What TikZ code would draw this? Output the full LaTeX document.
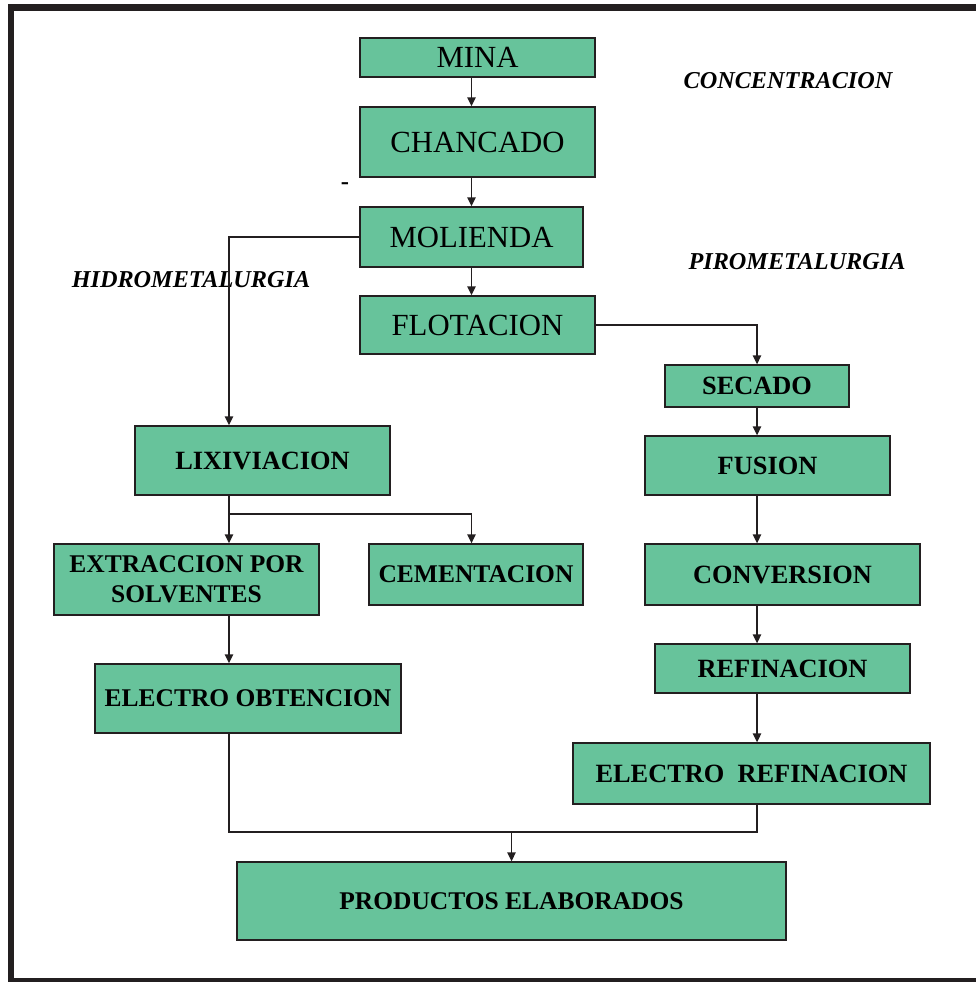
\documentclass[tikz,border=0pt]{standalone}
\usepackage{fontspec}
\setmainfont{Liberation Serif}
\usepackage{tikz}
\usetikzlibrary{arrows.meta, positioning, calc}
\definecolor{mgreen}{HTML}{67C39B}
\definecolor{mline}{HTML}{231F20}
\tikzset{
  >=Latex,
  stage/.style={
    draw=mline, fill=mgreen, line width=0.8pt, align=center, inner sep=2pt,
    font=\fontsize{17.5}{20}\selectfont
  },
  stagebold/.style={
    stage, font=\fontsize{15}{17}\selectfont\bfseries
  },
  tag/.style={font=\fontsize{13.8}{16}\selectfont\bfseries\itshape, text=black},
  arr/.style={-{Triangle[length=1.8mm, width=1.7mm]}, line width=0.8pt, draw=mline},
  link/.style={line width=0.8pt, draw=mline}
}

\begin{document}
\begin{tikzpicture}[x=0.02cm, y=-0.02cm]
  \useasboundingbox (0,0) rectangle (975,982);
  % frame
  \draw[mline, line width=0.14cm] (11,8) rectangle (1000,981);

  % concentracion
  \node[stage, minimum width=4.7cm, minimum height=0.78cm] (mina) at (477.5,57.5) {MINA};
  \node[stage, minimum width=4.7cm, minimum height=1.4cm] (chancado) at (477.5,142) {CHANCADO};
  \node[stage, minimum width=4.46cm, minimum height=1.2cm] (molienda) at (471.5,237) {MOLIENDA};
  \node[stage, minimum width=4.7cm, minimum height=1.16cm] (flotacion) at (477.5,325) {FLOTACION};

  % pirometalurgia
  \node[stagebold, minimum width=3.68cm, minimum height=0.84cm] (secado) at (757,386) {SECADO};
  \node[stagebold, minimum width=4.9cm, minimum height=1.18cm] (fusion) at (767.5,465.5) {FUSION};
  \node[stagebold, minimum width=5.5cm, minimum height=1.22cm] (conversion) at (782.5,574.5) {CONVERSION};
  \node[stagebold, minimum width=5.1cm, minimum height=0.98cm] (refinacion) at (782.5,668.5) {REFINACION};
  \node[stagebold, minimum width=7.14cm, minimum height=1.22cm] (electroref) at (751.5,773.5) {ELECTRO\ \ REFINACION};

  % hidrometalurgia
  \node[stagebold, minimum width=5.1cm, minimum height=1.38cm] (lixiviacion) at (262.5,460.5) {LIXIVIACION};
  \node[stagebold, minimum width=5.3cm, minimum height=1.42cm, font=\fontsize{14.5}{17}\selectfont\bfseries] (extraccion) at (186.5,579.5) {EXTRACCION POR\\SOLVENTES};
  \node[stagebold, minimum width=4.28cm, minimum height=1.22cm, font=\fontsize{14.5}{17}\selectfont\bfseries] (cementacion) at (476,574.5) {CEMENTACION};
  \node[stagebold, minimum width=6.12cm, minimum height=1.38cm, font=\fontsize{14.5}{17}\selectfont\bfseries] (electroobt) at (248,698.5) {ELECTRO OBTENCION};

  \node[stagebold, minimum width=10.98cm, minimum height=1.56cm, font=\fontsize{14.5}{17}\selectfont\bfseries] (productos) at (511.5,901) {PRODUCTOS ELABORADOS};

  % labels
  \node[tag] (lblconc) at (788,81) {CONCENTRACION};
  \node[tag] (lblpiro) at (797,262) {PIROMETALURGIA};
  \node[tag] (lblhidro) at (191,280) {HIDROMETALURGIA};
  \node[font=\fontsize{14}{16}\selectfont\bfseries] (dash) at (345,186) {-};

  \coordinate (split) at (229,514);
  \coordinate (merge) at (511.5,832);

  % connectors
  \draw[arr] (mina.south -| molienda) -- (chancado.north -| molienda);
  \draw[arr] (chancado.south -| molienda) -- (molienda.north);
  \draw[arr] (molienda.south) -- (flotacion.north -| molienda);
  \draw[arr] (molienda.west) -| (lixiviacion.north -| split);
  \draw[arr] (flotacion.east) -| (secado.north);
  \draw[arr] (secado.south) -- (secado.south |- fusion.north);
  \draw[arr] (secado.south |- fusion.south) -- (secado.south |- conversion.north);
  \draw[arr] (secado.south |- conversion.south) -- (secado.south |- refinacion.north);
  \draw[arr] (secado.south |- refinacion.south) -- (secado.south |- electroref.north);
  \draw[link] (lixiviacion.south -| split) -- (split);
  \draw[arr] (split) -- (extraccion.north -| split);
  \draw[arr] (split) -| (cementacion.north -| molienda);
  \draw[arr] (extraccion.south -| split) -- (electroobt.north -| split);
  \draw[link] (electroobt.south -| split) -- (split |- merge) -- (merge -| secado) -- (electroref.south -| secado);
  \draw[arr] (merge) -- (productos.north);
\end{tikzpicture}
\end{document}
